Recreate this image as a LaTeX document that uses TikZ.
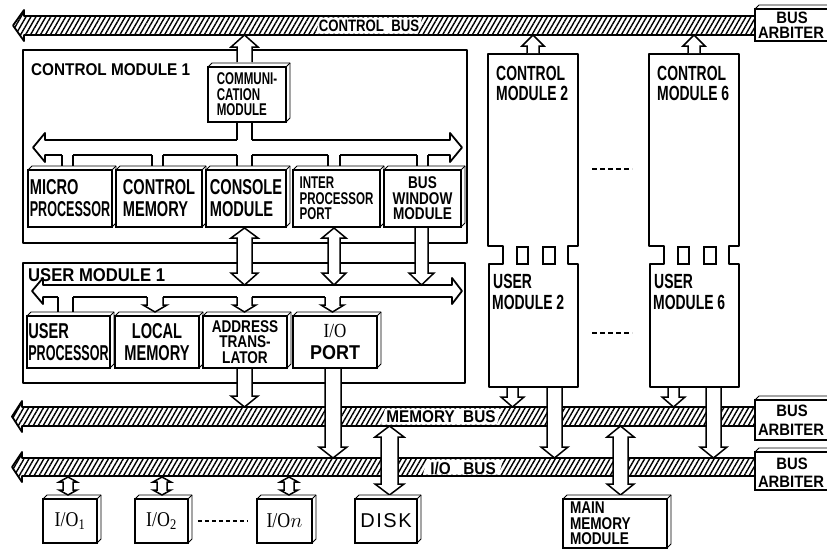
\documentclass[tikz,border=0pt]{standalone}
\usepackage{fontspec}
\setmainfont{Liberation Sans}
\newfontfamily\lbl[FakeStretch=0.68]{Liberation Sans Bold}
\newfontfamily\lblw[FakeStretch=0.8]{Liberation Sans Bold}
\newfontfamily\lbla[FakeStretch=0.9]{Liberation Sans Bold}
\newfontfamily\iof[FakeStretch=0.85]{Liberation Serif}
\usetikzlibrary{patterns.meta,calc}
\tikzset{
  hatchbus/.style={pattern={Lines[angle=60,distance=4.3pt,line width=1.4pt]}},
  busline/.style={line width=1.8pt, line join=round},
  frame/.style={draw, line width=1.6pt, line join=round},
  fronts/.style={draw, line width=1.8pt, fill=white, inner sep=0pt},
  depth/.style={draw, line width=0.9pt, fill=white, line join=round},
  oarrow/.style={draw, line width=1.5pt, fill=white, line join=miter},
  wire/.style={line width=1.5pt},
  t19/.style={font=\lbl\fontsize{21.5}{22}\selectfont, align=left},
  t16/.style={font=\lbl\fontsize{17}{15.5}\selectfont, align=left},
  t20/.style={font=\lbl\fontsize{20.5}{20}\selectfont, anchor=base west, inner sep=0pt},
  tbus/.style={font=\lblw\fontsize{16.5}{16.5}\selectfont, anchor=base, inner sep=0pt},
  tarb/.style={font=\lbla\fontsize{16.5}{16.5}\selectfont, anchor=base, inner sep=0pt},
  dots/.style={line width=2pt, dash pattern=on 5pt off 3pt},
}
% 3-D box: [options]{name}{x1}{y1}{x2}{y2}{text}
\newcommand\tdbox[7][]{%
  \draw[depth] (#3,#4) -- (#3+4,#4-4) -- (#5+4,#4-4) -- (#5+4,#6-4) -- (#5,#6) -- cycle;
  \draw[depth] (#5,#4) -- (#5+4,#4-4);
  \node[fronts, minimum width={(#5-#3)*1pt}, minimum height={(#6-#4)*1pt}, #1] (#2) at ({(#3+#5)/2},{(#4+#6)/2}) {#7};}
% single open arrow: [head ext]{x1}{x2}{ystart}{ybase}{ytip}
\newcommand\sarrow[6][6]{%
  \draw[oarrow] (#2,#4) -- (#2,#5) -- (#2-#1,#5) -- ({(#2+#3)/2},#6) -- (#3+#1,#5) -- (#3,#5) -- (#3,#4);}
% double open arrow: [ext]{x1}{x2}{tip1}{base1}{base2}{tip2}
\newcommand\dblarrow[7][6]{%
  \draw[oarrow] (#2,#5) -- (#2-#1,#5) -- ({(#2+#3)/2},#4) -- (#3+#1,#5) -- (#3,#5) -- (#3,#6) -- (#3+#1,#6) -- ({(#2+#3)/2},#7) -- (#2-#1,#6) -- (#2,#6) -- cycle;}
% hatched bus: {ytop}{ybot}{xbase}{xtip}{xright}
\newcommand\hbus[5]{%
  \path[hatchbus] (#3,#1) -- (#5,#1) -- (#5,#2) -- (#3,#2) -- (#3,#2+6) -- (#4,{(#1+#2)/2}) -- (#3,#1-6) -- cycle;
  \draw[busline] (#5,#1) -- (#3,#1) -- (#3,#1-6) -- (#4,{(#1+#2)/2}) -- (#3,#2+6) -- (#3,#2) -- (#5,#2);}
% outline bus: {ytop}{ybot}{xltip}{xlbase}{xrbase}{xrtip}
\newcommand\obus[6]{%
  \draw[busline, fill=white] (#4,#1) -- (#5,#1) -- (#5,#1-7) -- (#6,{(#1+#2)/2}) -- (#5,#2+7) -- (#5,#2) -- (#4,#2) -- (#4,#2+7) -- (#3,{(#1+#2)/2}) -- (#4,#1-7) -- cycle;}
\newcommand\stub[4]{%
  \fill[white] (#1,#3-2) rectangle (#2,#3+2);
  \draw[wire] (#1,#3) -- (#1,#4) (#2,#3) -- (#2,#4);}
\newcommand\stubarrow[5]{%
  \fill[white] (#1,#3-2) rectangle (#2,#3+2);
  \draw[wire, fill=white] (#1,#3) -- (#1,#4) -- (#1-4,#4) -- ({(#1+#2)/2},#5) -- (#2+4,#4) -- (#2,#4) -- (#2,#3);}
\begin{document}
\begin{tikzpicture}[x=1pt,y=-1pt]
\useasboundingbox[fill=white] (0,0) rectangle (827,552);

% ---------- module frames
\draw[frame] (23,50) rectangle (467,243);
\draw[frame] (23,263) rectangle (465,383);
\node[font=\lbla\fontsize{17}{17}\selectfont, anchor=base west, inner sep=0pt] (cm1lbl) at (31,75.5) {CONTROL MODULE 1};
\node[font=\lbla\fontsize{18.5}{18.5}\selectfont, anchor=base west, inner sep=0pt] (um1lbl) at (28,281) {USER MODULE 1};

% ---------- control / user module columns 2 and 6
\foreach \dx/\n in {0/2,161/6}{
  \begin{scope}[xshift=\dx pt]
  \draw[frame] (488,54) -- (488,246) -- (503,246) -- (503,264) -- (489,264) -- (489,387) -- (578,387) -- (578,264) -- (568,264) -- (568,246) -- (578,246) -- (578,54) -- cycle;
  \draw[line width=1.8pt] (517,247) rectangle (528,264) (543,247) rectangle (555,264);
  \node[t20] (cm\n a) at (496,80) {CONTROL};
  \node[t20] (cm\n b) at (496,100) {MODULE \n};
  \node[t20] (um\n a) at (493,288) {USER};
  \node[t20] (um\n b) at (492,309) {MODULE \n};
  \end{scope}}
\draw[dots] (592,169) -- (632,169);
\draw[dots] (592,333) -- (632,333);

% ---------- internal buses
\obus{140}{155}{33}{45}{450}{462}
\obus{285}{297}{32}{43}{452}{462}

% ---------- control module 1 boxes
\tdbox[t16]{comm}{208}{67}{286}{122}{COMMUNI-\\CATION\\MODULE}
\tdbox[t19]{micro}{28}{170}{112}{227}{MICRO\\\scalebox{0.86}[1]{PROCESSOR}}
\tdbox[t19]{cmem}{116}{170}{202}{227}{CONTROL\\MEMORY}
\tdbox[t19]{cons}{206}{170}{286}{227}{CONSOLE\\MODULE}
\tdbox[t16]{ipp}{293}{170}{380}{227}{INTER\\PROCESSOR\\PORT}
\tdbox[t16, align=center, font=\lblw\fontsize{17}{15.5}\selectfont]{bwin}{384}{170}{461}{227}{BUS\\WINDOW\\MODULE}

\stub{237}{252}{140}{122}
\stub{62}{73}{155}{166}
\stub{152}{163}{155}{166}
\stub{237}{252}{155}{166}
\stub{328}{340}{155}{166}
\stub{417}{428}{155}{166}

% ---------- user module 1 boxes
\tdbox[t19]{uproc}{27}{316}{110}{368}{USER\\\scalebox{0.86}[1]{PROCESSOR}}
\tdbox[t19, align=center]{lmem}{115}{316}{199}{368}{LOCAL\\MEMORY}
\tdbox[t16, align=center, font=\lblw\fontsize{17}{15.5}\selectfont]{addr}{203}{316}{287}{368}{ADDRESS\\TRANS-\\LATOR}
\tdbox[align=center, font=\lbla\fontsize{20}{22}\selectfont]{iop}{293}{316}{377}{368}{{\iof\mdseries I/O}\\PORT}

\stub{58}{73}{297}{312}
\stubarrow{147}{163}{297}{305}{312}
\stubarrow{237}{252}{297}{305}{312}
\stubarrow{325}{340}{297}{305}{312}

% ---------- hatched buses
\hbus{16}{35}{24}{13}{760}
\hbus{407}{426}{22}{12}{760}
\hbus{458}{476}{22}{12}{760}
\fill[white] (320,17.5) -- (422,17.5) -- (418,33.5) -- (316,33.5) -- cycle;
\node[tbus] (cbus) at (369,31) {CONTROL\ \ BUS};
\fill[white] (385,408.5) -- (501,408.5) -- (497,424.5) -- (381,424.5) -- cycle;
\node[tbus, font=\lbla\fontsize{17}{17}\selectfont] (mbus) at (441,422.5) {MEMORY\ \ BUS};
\fill[white] (427,459.5) -- (503,459.5) -- (499,474.5) -- (423,474.5) -- cycle;
\node[tbus, font=\lbla\fontsize{17}{17}\selectfont] (iobus) at (463,474) {I/O\ \ \ BUS};

% ---------- bus arbiters
\tdbox{arb1}{755}{9}{840}{41}{}
\tdbox{arb2}{755}{400}{840}{440}{}
\tdbox{arb3}{755}{452}{840}{490}{}
\node[tarb] (arb1a) at (792,23.5) {BUS};
\node[tarb] (arb1b) at (791,38.5) {ARBITER};
\node[tarb] (arb2a) at (792,416.5) {BUS};
\node[tarb] (arb2b) at (791,435) {ARBITER};
\node[tarb] (arb3a) at (792,469) {BUS};
\node[tarb] (arb3b) at (791,487) {ARBITER};

% ---------- open arrows
\sarrow{237}{252}{62}{47}{35}
\sarrow[5]{527}{539}{53}{46}{35}
\sarrow[5]{688}{700}{53}{46}{35}
\dblarrow{237}{252}{228}{238}{273}{285}
\dblarrow{328}{340}{228}{238}{273}{285}
\sarrow{415}{428}{228}{273}{285}
\sarrow{237}{252}{369}{396}{407}
\sarrow{325}{341}{369}{447}{458}
\sarrow{507}{518}{388}{397}{407}
\sarrow{547}{562}{388}{447}{458}
\sarrow{668}{679}{388}{397}{407}
\sarrow{706}{721}{388}{447}{458}
\dblarrow{381}{398}{426}{437}{484}{495}
\dblarrow{613}{628}{426}{437}{484}{495}

% ---------- I/O devices, disk, main memory
\tdbox[font=\iof\fontsize{21}{21}\selectfont]{io1}{43}{499}{97}{543}{I/O\textsubscript{1}}
\tdbox[font=\iof\fontsize{21}{21}\selectfont]{io2}{135}{499}{188}{543}{I/O\textsubscript{2}}
\tdbox[font=\iof\fontsize{21}{21}\selectfont]{ion}{257}{499}{312}{543}{I/O$n$}
\tdbox[font=\addfontfeature{LetterSpace=8}\fontsize{20}{20}\selectfont]{disk}{355}{499}{417}{543}{DISK}
\tdbox[t16, font=\lblw\fontsize{17}{15.5}\selectfont, text width=90pt]{mmem}{563}{499}{667}{548}{MAIN\\MEMORY\\MODULE}
\dblarrow[4]{63}{73}{477}{482}{490}{495}
\dblarrow[4]{157}{167}{477}{482}{490}{495}
\dblarrow[4]{284}{294}{477}{482}{490}{495}
\draw[dots, dash pattern=on 4pt off 3pt] ($(io2.east)+(9,0)$) coordinate (dsA) -- ($(ion.west)+(-9,0)$) coordinate (dsB);
\end{tikzpicture}
\end{document}
